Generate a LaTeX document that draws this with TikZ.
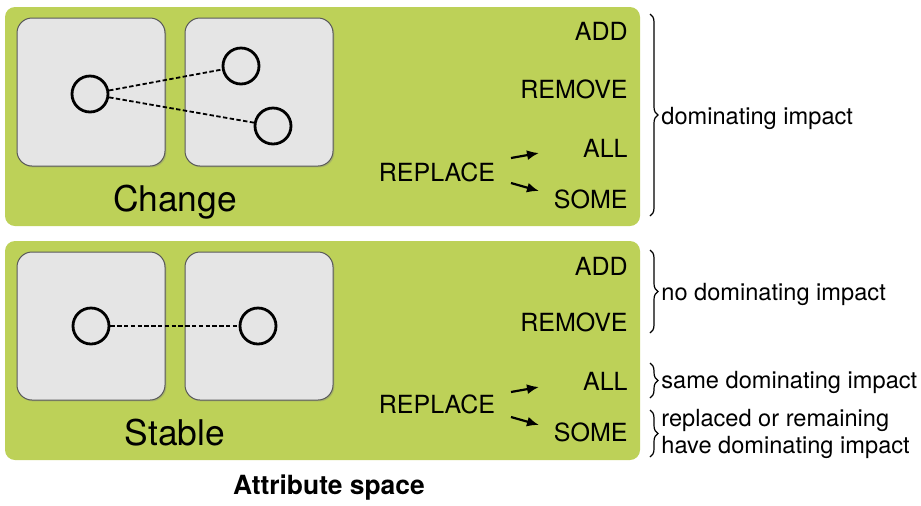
\documentclass[tikz,border=0pt]{standalone}
\usepackage{fontspec}
\setmainfont{TeX Gyre Heros}
\usetikzlibrary{arrows,arrows.meta,positioning,decorations.pathreplacing,shadows}
\definecolor{panelgreen}{RGB}{189,209,88}
\definecolor{boxgray}{RGB}{229,229,229}

\begin{document}
\begin{tikzpicture}[x=0.5pt, y=-0.5pt,
	panel/.style={fill=panelgreen, rounded corners=5pt},
	box/.style={fill=boxgray, draw=black!65, line width=0.5pt, rounded corners=7.5pt,
		drop shadow={shadow xshift=0.7pt, shadow yshift=-0.7pt, opacity=0.35}},
	elem/.style={circle, draw, line width=1.4pt, minimum size=18pt, inner sep=0pt},
	link/.style={line width=0.9pt, dash pattern=on 2.2pt off 1.2pt},
	op/.style={anchor=base east, inner sep=0pt, font=\fontsize{12.5}{15}\selectfont},
	repl/.style={anchor=base, inner sep=0pt, font=\fontsize{12.5}{15}\selectfont},
	kind/.style={anchor=base, inner sep=0pt, font=\fontsize{17.7}{20}\selectfont},
	impact/.style={anchor=west, inner sep=1.5pt, align=left, font=\fontsize{11.8}{13.5}\selectfont},
	pick/.style={line width=1.1pt, -{Latex[length=6pt,width=5pt]}},
	bracket/.style={decorate, decoration={brace, amplitude=4pt}, line width=0.6pt}]
	\useasboundingbox (0,0) rectangle (921,505); % Rand wie im Original

	% Change
	\fill[panel] (5,7) rectangle (640,226);
	\filldraw[box] (17,18) rectangle (165,166);
	\filldraw[box] (185,18) rectangle (333,166);
	\node[elem] (ca) at (90,94) {};
	\node[elem] (cb1) at (241,66) {};
	\node[elem] (cb2) at (273,126) {};
	\draw[link] (ca) -- (cb1);
	\draw[link] (ca) -- (cb2);
	\node[kind] (change) at (175,211) {Change};

	\node[op] (cadd) at (628,40) {ADD};
	\node[op] (cremove) at (628,98) {REMOVE};
	\node[op] (call) at (628,157) {ALL};
	\node[op] (csome) at (628,208) {SOME};
	\node[repl] (creplace) at (437,181) {REPLACE};
	\coordinate (ca1) at (511,158); \coordinate (ca2) at (539,153);
	\coordinate (cs1) at (511,183); \coordinate (cs2) at (539,191);
	\draw[pick] (ca1) -- (ca2);
	\draw[pick] (cs1) -- (cs2);

	% Stable
	\fill[panel] (5,241) rectangle (640,460);
	\filldraw[box] (17,252) rectangle (165,400);
	\filldraw[box] (185,252) rectangle (333,400);
	\node[elem] (sa) at (91,326) {};
	\node[elem] (sb) at (258,326) {};
	\draw[link] (sa) -- (sb);
	\node[kind] (stable) at (175,445) {Stable};

	\node[op] (sadd) at (628,275) {ADD};
	\node[op] (sremove) at (628,331) {REMOVE};
	\node[op] (sall) at (628,390) {ALL};
	\node[op] (ssome) at (628,441) {SOME};
	\node[repl] (sreplace) at (437,413) {REPLACE};
	\coordinate (sa1) at (511,392); \coordinate (sa2) at (539,387);
	\coordinate (ss1) at (511,417); \coordinate (ss2) at (539,425);
	\draw[pick] (sa1) -- (sa2);
	\draw[pick] (ss1) -- (ss2);

	% Klammern
	\draw[bracket] (650,14) -- (650,216);
	\node[impact] (dom) at (658,118) {dominating impact};
	\draw[bracket] (650,250) -- (650,333);
	\node[impact] (nodom) at (658,294) {no dominating impact};
	\draw[bracket] (650,363) -- (650,398);
	\node[impact] (samedom) at (658,382) {same dominating impact};
	\draw[bracket] (650,410) -- (650,457);
	\node[impact] (remdom) at (658,434) {replaced or remaining\\have dominating impact};

	\node[anchor=base, inner sep=0pt, font=\fontsize{13.2}{15}\selectfont\bfseries] (title) at (329,494) {Attribute space};
\end{tikzpicture}
\end{document}
